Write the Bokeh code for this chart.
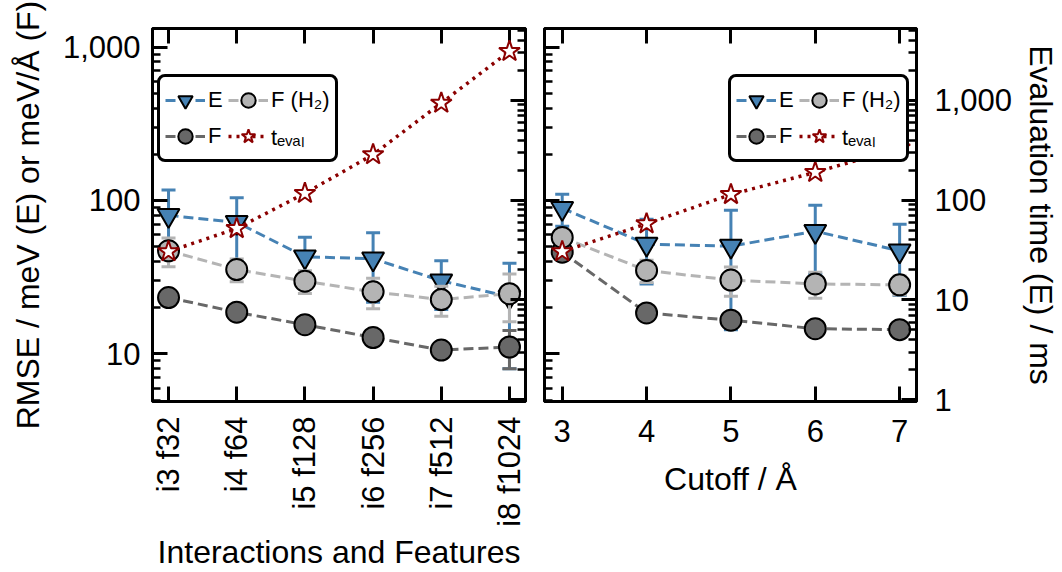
import math
from bokeh.plotting import figure
from bokeh.models import (Range1d, LogAxis, LinearAxis, FixedTicker, NumeralTickFormatter,
                          Legend, LegendItem, ColumnDataSource, LogScale)
from bokeh.layouts import row
from bokeh.embed import file_html
from bokeh.resources import INLINE

# ---------------- data ----------------
model_labels = ["i3 f32", "i4 f64", "i5 f128", "i6 f256", "i7 f512", "i8 f1024"]
model_E = [80, 72, 43, 41.7, 30, 23.5]
model_E_err = [37, 32, 14.5, 20, 10.5, 15.5]
model_F = [23.3, 18.7, 15.5, 12.8, 10.6, 11.1]
model_F_err = [1.5, 1.2, 1.0, 0.9, 0.8, 3.1]
model_FH2 = [47, 35.5, 29.8, 25.4, 22.6, 24.7]
model_FH2_err = [10, 6, 5, 5.7, 5, 8.5]
model_teval = [30.5, 52, 117, 286, 940, 3100]

cutoffs = [3, 4, 5, 6, 7]
cut_E = [89, 52, 50.4, 63, 47]
cut_E_err = [21, 23.4, 36, 30, 23]
cut_F = [46, 18.5, 16.6, 14.6, 14.4]
cut_F_err = [2, 1, 1, 0.8, 0.8]
cut_FH2 = [57.4, 35, 30.3, 28.6, 28.2]
cut_FH2_err = [5, 5.8, 6.5, 5.5, 4]
cut_teval = [30.5, 58, 114, 190, 334]

rmse_major = [10, 100, 1000]
eval_major = [1, 10, 100, 1000]

# ---------------- style ----------------
FONT = "Liberation Sans"
C_E = "#4682b4"
C_F = "#686868"
C_FH2 = "#b4b4b4"
C_T = "#8b0000"


def minor_ticks(lo_dec, hi_dec, top):
    out = []
    for d in range(lo_dec, hi_dec + 1):
        for k in range(2, 10):
            v = k * 10 ** d
            if v <= top:
                out.append(v)
    return out


def style_axis(ax, show_labels=True):
    ax.axis_line_width = 3
    ax.axis_line_color = "black"
    ax.major_tick_in = 15
    ax.major_tick_out = 0
    ax.minor_tick_in = 8
    ax.minor_tick_out = 0
    ax.major_tick_line_width = 3
    ax.minor_tick_line_width = 2.5
    ax.major_tick_line_color = "black"
    ax.minor_tick_line_color = "black"
    ax.major_label_text_font = FONT
    ax.axis_label_text_font = FONT
    ax.axis_label_text_font_size = "32px"
    ax.axis_label_text_font_style = "normal"
    ax.axis_label_text_color = "black"
    if show_labels:
        ax.major_label_text_font_size = "31px"
        ax.major_label_text_color = "black"
    else:
        ax.major_label_text_font_size = "1px"
        ax.major_label_text_color = None
        ax.major_label_standoff = 0


def make_panel(xs, xrange, overrides, E, Ee, F, Fe, H, He, T,
               width, mb_left, mb_right, left_labels, right_labels, xlabel, rotate,
               legend_loc):
    p = figure(width=width, height=572, x_range=xrange, y_range=Range1d(4.9, 1320),
               y_axis_type="log", toolbar_location=None, output_backend="svg",
               min_border_left=mb_left, min_border_right=mb_right,
               min_border_top=28, min_border_bottom=160)
    p.extra_y_ranges = {"eval": Range1d(0.96, 5250)}
    p.extra_y_scales = {"eval": LogScale()}
    p.xgrid.visible = False
    p.ygrid.visible = False
    p.outline_line_color = "black"
    p.outline_line_width = 3
    p.outline_line_alpha = 1
    p.background_fill_color = "white"
    p.border_fill_color = "white"

    # left RMSE axis
    ly = p.yaxis[0]
    ly.ticker = FixedTicker(ticks=rmse_major, minor_ticks=minor_ticks(0, 2, 1320))
    ly.formatter = NumeralTickFormatter(format="0,0")
    style_axis(ly, left_labels)
    if left_labels:
        ly.axis_label = "RMSE / meV (E) or meV/Å (F)"
        ly.major_label_standoff = 12
        ly.axis_label_standoff = 14

    # right eval axis
    ry = LogAxis(y_range_name="eval",
                 ticker=FixedTicker(ticks=eval_major, minor_ticks=minor_ticks(0, 3, 5250)),
                 formatter=NumeralTickFormatter(format="0,0"))
    style_axis(ry, right_labels)
    if right_labels:
        ry.axis_label = "Evaluation time (E) / ms"
        ry.major_label_standoff = 18
        ry.axis_label_standoff = 8
    p.add_layout(ry, "right")

    # bottom x axis
    bx = p.xaxis[0]
    bx.ticker = FixedTicker(ticks=list(xs), minor_ticks=[])
    if overrides:
        bx.major_label_overrides = overrides
    style_axis(bx, True)
    bx.axis_label = xlabel
    if rotate:
        bx.major_label_orientation = math.pi / 2
        bx.major_label_standoff = 15
        bx.axis_label_standoff = 4
    else:
        bx.major_label_standoff = 18
        bx.axis_label_standoff = 16

    # top x axis (ticks only)
    tx = LinearAxis(ticker=FixedTicker(ticks=list(xs), minor_ticks=[]))
    style_axis(tx, False)
    p.add_layout(tx, "above")

    def series(vals, errs, color, marker, size, dash):
        up = [v + e for v, e in zip(vals, errs)]
        lo = [v - e for v, e in zip(vals, errs)]
        src = ColumnDataSource(dict(x=list(xs), y=vals, up=up, lo=lo))
        ln = p.line("x", "y", source=src, line_color=color, line_width=3, line_dash=dash)
        p.segment(x0="x", y0="lo", x1="x", y1="up", source=src, line_color=color, line_width=3)
        p.scatter("x", "up", source=src, marker="dash", size=14, line_color=color, line_width=3)
        p.scatter("x", "lo", source=src, marker="dash", size=14, line_color=color, line_width=3)
        mk = p.scatter("x", "y", source=src, marker=marker, size=size, fill_color=color,
                       line_color="black", line_width=2)
        return ln, mk

    eln, emk = series(E, Ee, C_E, "inverted_triangle", 22, "10 5")
    fln, fmk = series(F, Fe, C_F, "circle", 21, "10 5")
    hln, hmk = series(H, He, C_FH2, "circle", 21, "10 5")

    tsrc = ColumnDataSource(dict(x=list(xs), y=T))
    tln = p.line("x", "y", source=tsrc, y_range_name="eval", line_color=C_T, line_width=3.5,
                 line_dash="3 5")
    tmk = p.scatter("x", "y", source=tsrc, y_range_name="eval", marker="star", size=22,
                    fill_color="white", line_color=C_T, line_width=2, level="overlay")

    leg = Legend(items=[LegendItem(label="E", renderers=[eln, emk]),
                        LegendItem(label="F", renderers=[fln, fmk]),
                        LegendItem(label="F (H₂)", renderers=[hln, hmk]),
                        LegendItem(label="tₑᵥₐₗ", renderers=[tln, tmk])],
                 ncols=2, location=legend_loc)
    leg.label_text_font = FONT
    leg.label_text_font_size = "22px"
    leg.label_text_color = "black"
    leg.glyph_height = 36
    leg.glyph_width = 40
    leg.label_height = 30
    leg.label_standoff = 3
    leg.spacing = -8
    leg.padding = 5
    leg.margin = 0
    leg.border_line_color = "black"
    leg.border_line_width = 3
    leg.border_line_alpha = 1
    leg.background_fill_color = "white"
    leg.background_fill_alpha = 1
    if "border_radius" in Legend.properties():
        leg.border_radius = 8
    p.add_layout(leg, "center")
    return p


xs1 = list(range(len(model_labels)))
p1 = make_panel(xs1, Range1d(-0.235, 5.235), {i: s for i, s in enumerate(model_labels)},
                model_E, model_E_err, model_F, model_F_err, model_FH2, model_FH2_err, model_teval,
                535, 152, 10, True, False, "Interactions and Features", True, (5, 239))
p2 = make_panel(cutoffs, Range1d(2.79, 7.2), None,
                cut_E, cut_E_err, cut_F, cut_F_err, cut_FH2, cut_FH2_err, cut_teval,
                527, 9, 142, False, True, "Cutoff / Å", False, (184, 239))

layout = row(p1, p2)
open("out.html", "w").write(file_html(layout, INLINE))
